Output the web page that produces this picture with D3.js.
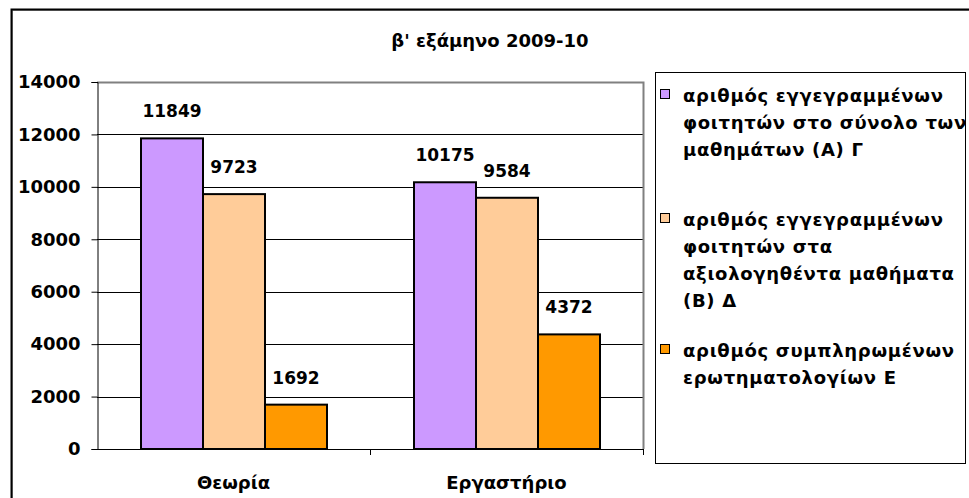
<!DOCTYPE html>
<html>
<head>
<meta charset="utf-8">
<script src="https://cdn.jsdelivr.net/npm/d3@7"></script>
<style>
  html, body { margin: 0; padding: 0; background: #fff; }
  svg { display: block; }
  text { font-family: "DejaVu Sans", sans-serif; font-weight: bold; fill: #000; }
</style>
</head>
<body>
<svg id="chart" width="969" height="498"></svg>
<script>
const title = "β' εξάμηνο 2009-10";
const categories = ["Θεωρία", "Εργαστήριο"];
const seriesNames = [
  ["αριθμός εγγεγραμμένων", "φοιτητών στο σύνολο των", "μαθημάτων (Α) Γ"],
  ["αριθμός εγγεγραμμένων", "φοιτητών στα", "αξιολογηθέντα μαθήματα", "(Β) Δ"],
  ["αριθμός συμπληρωμένων", "ερωτηματολογίων Ε"]
];
const seriesColors = ["#CC99FF", "#FFCC99", "#FF9900"];
const valuesA = [11849, 10175];
const valuesB = [9723, 9584];
const valuesE = [1692, 4372];
const yTicks = [0, 2000, 4000, 6000, 8000, 10000, 12000, 14000];

const series = [valuesA, valuesB, valuesE];
const svg = d3.select("#chart");

// outer frame
svg.append("rect").attr("x", 12.5).attr("y", 10.5).attr("width", 1000).attr("height", 600)
  .attr("fill", "none").attr("stroke", "#999").attr("stroke-width", 1);
svg.append("rect").attr("x", 11.5).attr("y", 9.5).attr("width", 1000).attr("height", 600)
  .attr("fill", "none").attr("stroke", "#000").attr("stroke-width", 2);

// title
svg.append("text").attr("x", 490).attr("y", 47).attr("text-anchor", "middle")
  .style("font-size", "18px").text(title);

const plot = { left: 97, right: 643, top: 82, bottom: 449 };
const y = d3.scaleLinear().domain([0, 14000]).range([plot.bottom, plot.top]);
const x = d3.scaleBand().domain(categories).range([plot.left, plot.right]);
const xs = d3.scaleBand().domain(d3.range(series.length)).range([44, 230]);

// gridlines
svg.append("g").selectAll("line").data(yTicks.filter(t => t > 0 && t < 14000)).join("line")
  .attr("x1", plot.left).attr("x2", plot.right)
  .attr("y1", d => Math.round(y(d)) + 0.5).attr("y2", d => Math.round(y(d)) + 0.5)
  .attr("stroke", "#000").attr("stroke-width", 1);
// plot border top/right (gray)
svg.append("path")
  .attr("d", `M${plot.left},${plot.top + 0.5}H${plot.right + 0.5}V${plot.bottom}`)
  .attr("fill", "none").attr("stroke", "#808080").attr("stroke-width", 2);

// y axis
const yAxis = d3.axisLeft(y).tickValues(yTicks).tickSize(6).tickPadding(11).tickFormat(d3.format("d"));
const gy = svg.append("g").attr("transform", `translate(${plot.left + 0.5},0)`).call(yAxis);
gy.select(".domain").attr("stroke", "#000");
gy.selectAll(".tick line").attr("stroke", "#000");
gy.selectAll(".tick text").attr("fill", "#000")
  .style("font-size", "18px").style("font-family", "DejaVu Sans, sans-serif").style("font-weight", "bold");

// bars
categories.forEach((c, ci) => {
  series.forEach((s, si) => {
    const x0 = x(c) + xs(si);
    svg.append("rect")
      .attr("x", x0).attr("y", y(s[ci]))
      .attr("width", xs.bandwidth()).attr("height", y(0) - y(s[ci]))
      .attr("fill", seriesColors[si]).attr("stroke", "#000").attr("stroke-width", 2);
    svg.append("text")
      .attr("x", x0 + xs.bandwidth() / 2).attr("y", y(s[ci]) - 21)
      .attr("text-anchor", "middle").style("font-size", "17px")
      .text(s[ci]);
  });
});

// x axis
const xAxis = d3.axisBottom(x).tickSize(0).tickPadding(27);
const gx = svg.append("g").attr("transform", `translate(0,${plot.bottom + 0.5})`).call(xAxis);
gx.select(".domain").attr("stroke", "#000").attr("d", `M${plot.left},0H${plot.right}`);
gx.selectAll(".tick text").attr("fill", "#000")
  .style("font-size", "18px").style("font-family", "DejaVu Sans, sans-serif").style("font-weight", "bold");
// category separator ticks
svg.append("g").selectAll("line").data([x(categories[1]), plot.right]).join("line")
  .attr("x1", d => Math.round(d) + 0.5).attr("x2", d => Math.round(d) + 0.5)
  .attr("y1", plot.bottom).attr("y2", plot.bottom + 6).attr("stroke", "#000");

// legend
svg.append("clipPath").attr("id", "legclip").append("rect")
  .attr("x", 656).attr("y", 73).attr("width", 309).attr("height", 390);
svg.append("rect").attr("x", 655.5).attr("y", 72.5).attr("width", 310).attr("height", 391)
  .attr("fill", "#fff").attr("stroke", "#000").attr("stroke-width", 1);
const legendStart = [102, 226, 357];
const legendGroup = svg.append("g").attr("clip-path", "url(#legclip)");
seriesNames.forEach((lines, i) => {
  const g = legendGroup.append("g");
  g.append("rect").attr("x", 660.5).attr("y", legendStart[i] - 12.5).attr("width", 9).attr("height", 9)
    .attr("fill", seriesColors[i]).attr("stroke", "#000").attr("stroke-width", 1);
  lines.forEach((l, li) => {
    g.append("text").attr("x", 683).attr("y", legendStart[i] + li * 27)
      .style("font-size", "18px").style("letter-spacing", "0.7px").text(l);
  });
});
</script>
</body>
</html>
